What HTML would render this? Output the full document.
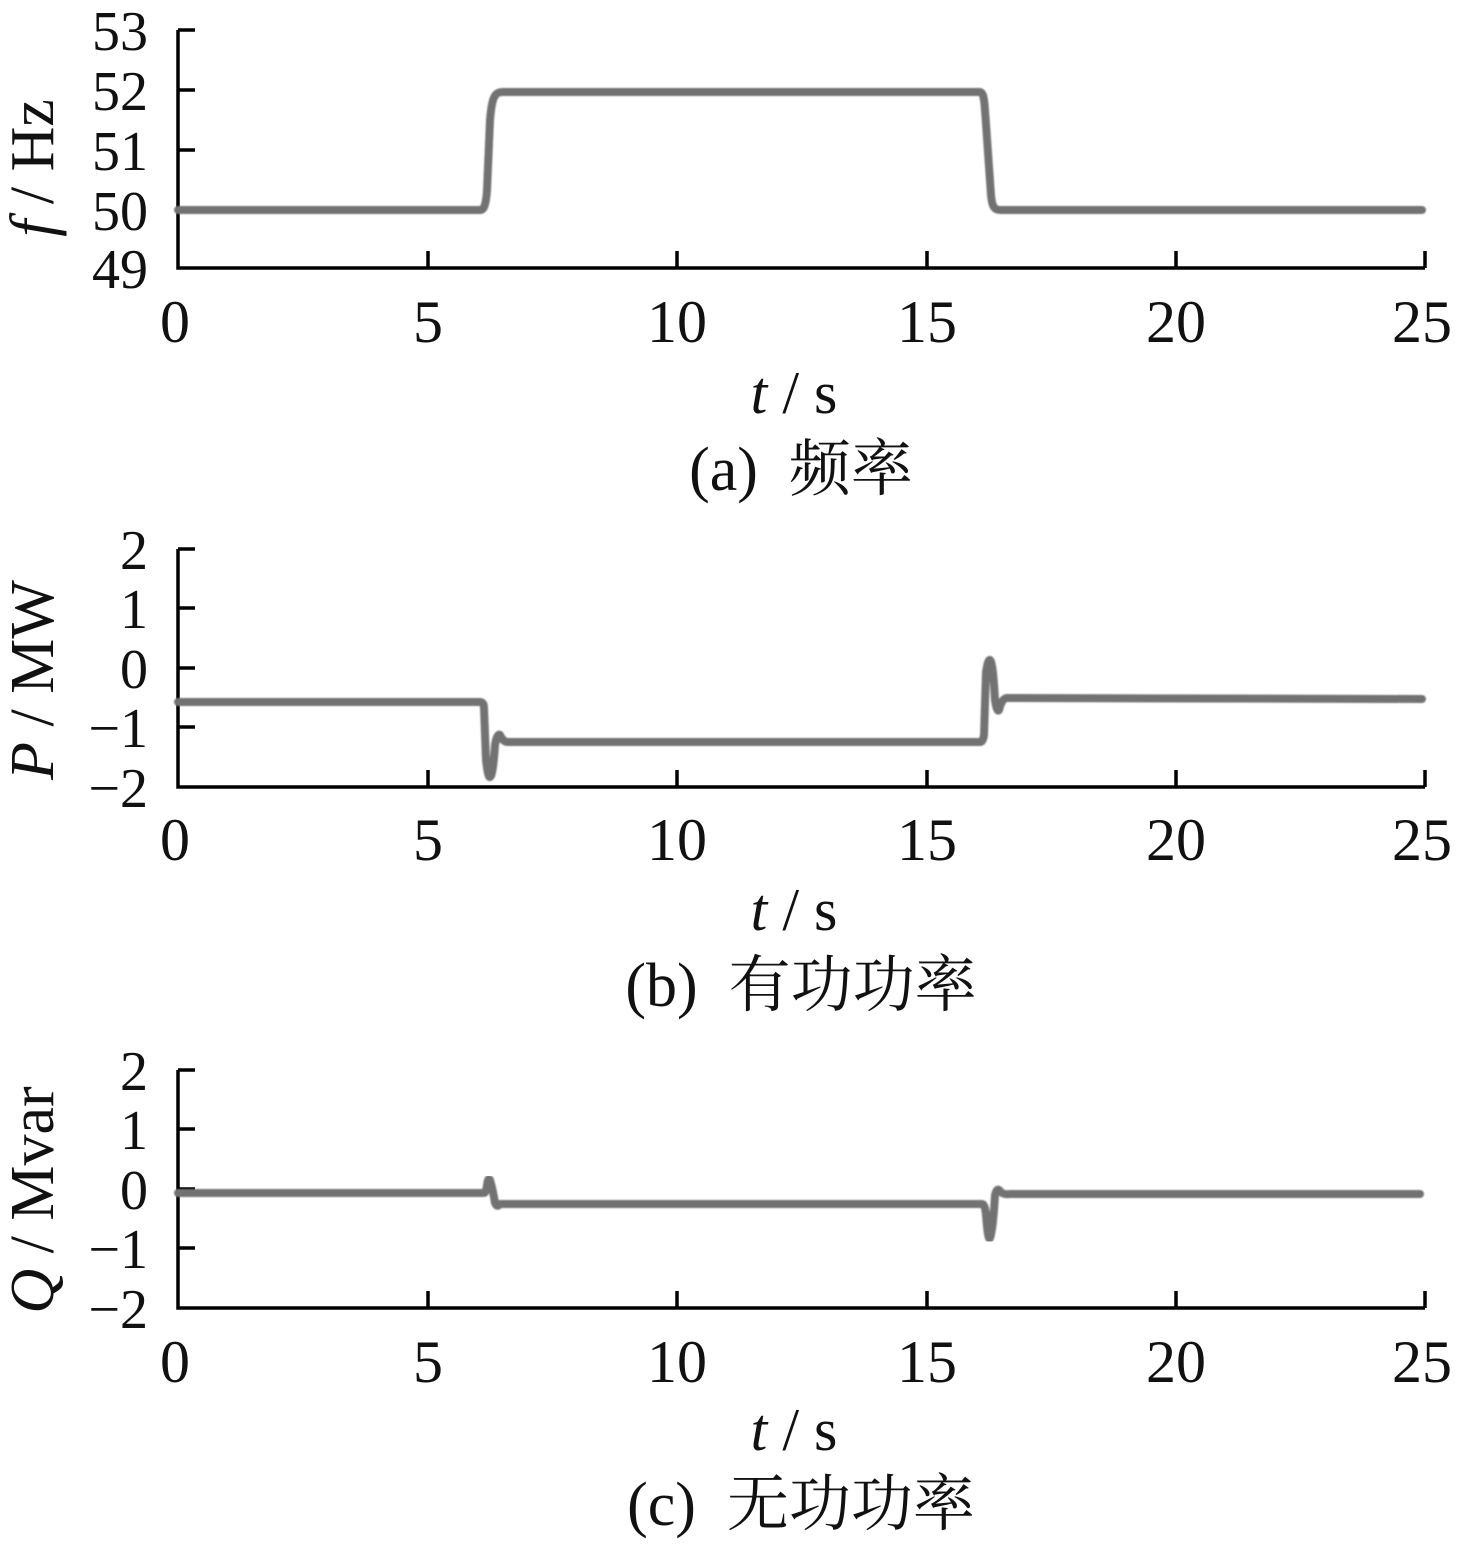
<!DOCTYPE html>
<html><head><meta charset="utf-8"><style>
html,body{margin:0;padding:0;background:#fff;}
svg{display:block;}
text{font-family:"Liberation Serif","Noto Serif CJK SC",serif;fill:#111;}
</style></head><body>
<svg width="1457" height="1546" viewBox="0 0 1457 1546" xmlns="http://www.w3.org/2000/svg">
<defs><filter id="bl" x="-5%" y="-5%" width="110%" height="110%"><feGaussianBlur stdDeviation="0.9"/></filter></defs>

<!-- Panel a -->
<g stroke="#000" stroke-width="3.5" fill="none">
<path d="M178,30 V268 H1425"/>
<path d="M178,30 H195 M178,90 H195 M178,150 H195 M178,210 H195"/>
<path d="M428,268 V251 M677,268 V251 M927,268 V251 M1176,268 V251 M1425,268 V251"/>
</g>
<path filter="url(#bl)" d="M178,210 L480,210 C484,210 486,205 487,190 L490,120 C492,96 495,92 503,92 L979,92 C983,92 984,96 985,110 L991,195 C992,206 994,210 1000,210 L1422,210" stroke="#727272" stroke-width="8" fill="none" stroke-linecap="round" stroke-linejoin="round"/>
<g font-size="56" text-anchor="end">
<text x="148" y="50">53</text><text x="148" y="110">52</text><text x="148" y="170">51</text><text x="148" y="230">50</text><text x="148" y="288">49</text>
</g>
<g font-size="60" text-anchor="middle">
<text x="175" y="342">0</text><text x="428" y="342">5</text><text x="677" y="342">10</text><text x="927" y="342">15</text><text x="1176" y="342">20</text><text x="1422" y="342">25</text>
</g>
<text font-size="62" transform="translate(53,168) rotate(-90)" text-anchor="middle"><tspan font-style="italic">f</tspan> / Hz</text>
<text font-size="60" x="794" y="413" text-anchor="middle"><tspan font-style="italic">t</tspan> / s</text>
<text font-size="62" x="801" y="490" text-anchor="middle">(a)&#160;&#160;频率</text>

<!-- Panel b -->
<g stroke="#000" stroke-width="3.5" fill="none">
<path d="M178,549 V787 H1425"/>
<path d="M178,549 H195 M178,608 H195 M178,668 H195 M178,727 H195"/>
<path d="M428,787 V770 M677,787 V770 M927,787 V770 M1176,787 V770 M1425,787 V770"/>
</g>
<path filter="url(#bl)" d="M178,702 L480,702 Q484,702 484,708 L486,760 Q488,778 490,777 Q493,776 495,745 Q497,733 500,735 Q503,742 508,742 L980,742 Q983,742 984,735 L986,672 Q988,659 990,660 Q993,662 995,700 Q997,713 999,710 Q1002,698 1007,698 L1422,699" stroke="#727272" stroke-width="8" fill="none" stroke-linecap="round" stroke-linejoin="round"/>
<g font-size="56" text-anchor="end">
<text x="148" y="569">2</text><text x="148" y="628">1</text><text x="148" y="688">0</text><text x="148" y="747">−1</text><text x="148" y="807">−2</text>
</g>
<g font-size="60" text-anchor="middle">
<text x="175" y="860">0</text><text x="428" y="860">5</text><text x="677" y="860">10</text><text x="927" y="860">15</text><text x="1176" y="860">20</text><text x="1422" y="860">25</text>
</g>
<text font-size="62" transform="translate(53,680) rotate(-90)" text-anchor="middle"><tspan font-style="italic">P</tspan> / MW</text>
<text font-size="60" x="794" y="930" text-anchor="middle"><tspan font-style="italic">t</tspan> / s</text>
<text font-size="62" x="801" y="1006" text-anchor="middle">(b)&#160;&#160;有功功率</text>

<!-- Panel c -->
<g stroke="#000" stroke-width="3.5" fill="none">
<path d="M178,1070 V1308 H1425"/>
<path d="M178,1070 H195 M178,1129 H195 M178,1189 H195 M178,1248 H195"/>
<path d="M428,1308 V1291 M677,1308 V1291 M927,1308 V1291 M1176,1308 V1291 M1425,1308 V1291"/>
</g>
<path filter="url(#bl)" d="M178,1193 L484,1193 Q486,1193 487,1185 Q488,1177 490,1180 Q493,1190 495,1203 Q497,1208 500,1204 L982,1204 Q985,1204 986,1215 Q988,1242 990,1238 Q993,1230 995,1195 Q997,1187 1000,1191 Q1003,1195 1010,1194 L1420,1194" stroke="#727272" stroke-width="8" fill="none" stroke-linecap="round" stroke-linejoin="round"/>
<g font-size="56" text-anchor="end">
<text x="148" y="1090">2</text><text x="148" y="1149">1</text><text x="148" y="1209">0</text><text x="148" y="1268">−1</text><text x="148" y="1328">−2</text>
</g>
<g font-size="60" text-anchor="middle">
<text x="175" y="1382">0</text><text x="428" y="1382">5</text><text x="677" y="1382">10</text><text x="927" y="1382">15</text><text x="1176" y="1382">20</text><text x="1422" y="1382">25</text>
</g>
<text font-size="62" transform="translate(53,1200) rotate(-90)" text-anchor="middle"><tspan font-style="italic">Q</tspan> / Mvar</text>
<text font-size="60" x="794" y="1450" text-anchor="middle"><tspan font-style="italic">t</tspan> / s</text>
<text font-size="62" x="801" y="1525" text-anchor="middle">(c)&#160;&#160;无功功率</text>
</svg>
</body></html>
